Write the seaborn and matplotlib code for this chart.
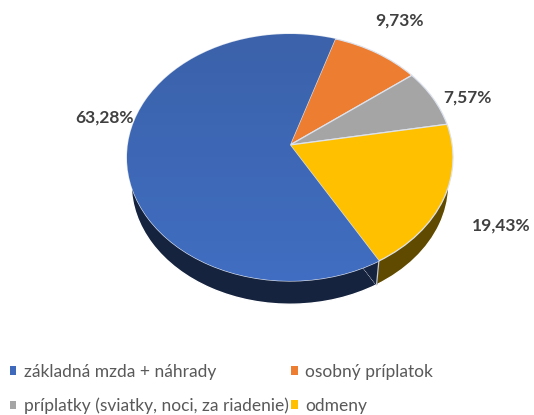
import numpy as np
import matplotlib
matplotlib.use('Agg')
import matplotlib.pyplot as plt
import seaborn as sns
from matplotlib.patches import Patch
from matplotlib.transforms import Affine2D, Transform

categories = ['základná mzda + náhrady', 'osobný príplatok',
              'príplatky (sviatky, noci, za riadenie)', 'odmeny']
values = [63.28, 9.73, 7.57, 19.43]
value_labels = ['63,28%', '9,73%', '7,57%', '19,43%']
colors = ['#3F69BA', '#ED7D31', '#A5A5A5', '#FFC000']
wall_colors = ['#16233F', '#6B3A12', '#4F4F4F', '#604A00']


# fake 3D: tilts the flat pie, the apex ends up above the ellipse centre
class Tilt(Transform):
    input_dims = 2
    output_dims = 2
    is_affine = False

    def transform_non_affine(self, xy):
        xy = np.asarray(xy, dtype=float)
        w = 1 + 0.101 * xy[:, 1]
        return np.column_stack((290 + 162.2 * xy[:, 0] / w,
                                145 - 122.2 * xy[:, 1] / w))


sns.set_theme(style='white')
plt.rcParams['font.family'] = ['Lato', 'DejaVu Sans']

fig = plt.figure(figsize=(5.34, 4.15), dpi=100)
ax = fig.add_axes([0, 0, 1, 1])

tilt = Tilt()
base = tilt + Affine2D().translate(-290, -157.5).scale(0.974).translate(290, 184)

# side wall first, the top goes over it
walls, _ = ax.pie(values, colors=sns.color_palette(wall_colors), startangle=-60,
                  counterclock=False, radius=1)
for w in walls:
    w.set_transform(base + ax.transData)
    w.set_zorder(1)

wedges, _ = ax.pie(values, colors=sns.color_palette(colors), startangle=-60,
                   counterclock=False, radius=1,
                   wedgeprops={'edgecolor': '#DDE3EE', 'linewidth': 0.9})
for w in wedges:
    w.set_transform(tilt + ax.transData)
    w.set_zorder(2)

# soft shading on the blue slice
shade = matplotlib.colors.LinearSegmentedColormap.from_list('blue', ['#3B62AA', '#416EC2'])
im = ax.imshow(np.linspace(0, 1, 64).reshape(-1, 1), cmap=shade, aspect='auto',
               extent=(120, 400, 285, 30), zorder=2)
im.set_clip_path(wedges[0])

ax.set_aspect('auto')
ax.set_xlim(0, 534)
ax.set_ylim(415, 0)
ax.axis('off')

# where blue meets yellow on the wall: navy up to a thin bright line
edge = np.array([[np.cos(np.deg2rad(-60)), np.sin(np.deg2rad(-60))]])
top = tilt.transform_non_affine(edge)[0]
bot = base.transform(edge)[0]
apex = base.transform(np.array([[0.0, 0.0]]))[0]
ax.fill([apex[0], top[0], bot[0]], [apex[1], top[1], bot[1]],
        facecolor=wall_colors[0], edgecolor=wall_colors[0], lw=0.8, zorder=1.5)
ax.plot([top[0], bot[0]], [top[1], bot[1]], color='#C9CBD0', lw=0.9, zorder=1.6)

label_pos = [(105, 118), (400, 21), (467, 98), (501, 226)]
for txt, (x, y) in zip(value_labels, label_pos):
    ax.text(x, y, txt, ha='center', va='center', fontsize=12.5,
            fontweight='bold', color='#404040', zorder=4)

handles = [Patch(facecolor=c, edgecolor='none') for c in colors]
order = [0, 2, 1, 3]
ax.legend([handles[i] for i in order], [categories[i] for i in order], ncols=2,
          loc='lower left', bbox_to_anchor=(0.019, 0.002), frameon=False,
          fontsize=12.55, labelcolor='#595959', handlelength=0.36, handleheight=0.36,
          handletextpad=0.42, columnspacing=0.15, labelspacing=1.02,
          borderpad=0, borderaxespad=0)

fig.savefig('out.png', dpi=100)
